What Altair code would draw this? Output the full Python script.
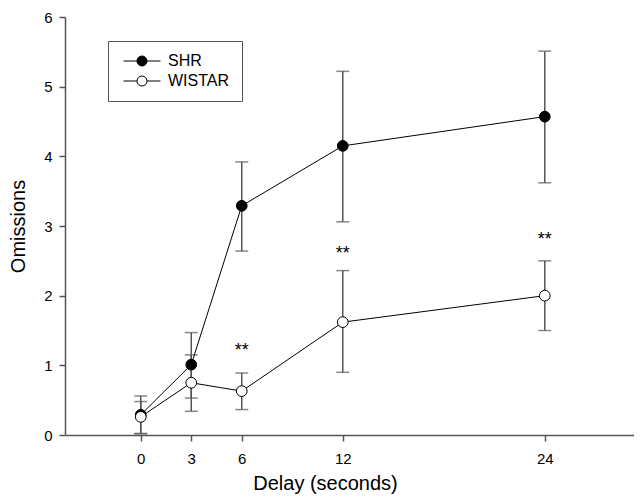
import altair as alt
import pandas as pd

delay = [0, 3, 6, 12, 24]
groups = ["SHR", "WISTAR"]

shr_mean = [0.29, 1.01, 3.29, 4.15, 4.57]
shr_upper = [0.56, 1.47, 3.92, 5.22, 5.51]
shr_lower = [0.02, 0.53, 2.64, 3.06, 3.62]

wis_mean = [0.26, 0.75, 0.63, 1.62, 2.00]
wis_upper = [0.48, 1.15, 0.89, 2.36, 2.50]
wis_lower = [0.02, 0.34, 0.365, 0.90, 1.50]

star_delay = [6, 12, 24]
star_y = [1.27, 2.65, 2.85]
star_text = ["**", "**", "**"]

y_ticks = [0, 1, 2, 3, 4, 5, 6]

rows = []
for g, m, lo, hi in [("SHR", shr_mean, shr_lower, shr_upper),
                     ("WISTAR", wis_mean, wis_lower, wis_upper)]:
    for d, a, b, c in zip(delay, m, lo, hi):
        rows.append({"delay": d, "group": g, "mean": a, "lower": b, "upper": c})
df = pd.DataFrame(rows)
stars = pd.DataFrame({"delay": star_delay, "y": star_y, "t": star_text})

FONT = "Liberation Sans"

xscale = alt.Scale(domain=[-4.5, 29.3], nice=False, zero=False)
yscale = alt.Scale(domain=[0, 6], nice=False, zero=False)

x = alt.X("delay:Q", scale=xscale,
          axis=alt.Axis(values=delay, format="d", title="Delay (seconds)", grid=False,
                        labelFontSize=15, titleFontSize=20, tickSize=6,
                        labelPadding=10, titlePadding=7, titleFontWeight="normal",
                        titleX=260, labelFont=FONT, titleFont=FONT))
y_axis = alt.Axis(values=y_ticks, format="d", title="Omissions", grid=False,
                  labelFontSize=15, titleFontSize=20, tickSize=6,
                  labelPadding=7, titlePadding=15, titleFontWeight="normal",
                  labelFont=FONT, titleFont=FONT)

base = alt.Chart(df)

lines = base.mark_line(color="black", strokeWidth=1).encode(
    x=x, y=alt.Y("mean:Q", scale=yscale, axis=y_axis), detail="group:N")

rules = base.mark_rule(color="#555555", strokeWidth=1.5).encode(
    x="delay:Q", y="lower:Q", y2="upper:Q")

caps_hi = base.mark_tick(orient="horizontal", color="#555555", size=13, thickness=1.5).encode(
    x="delay:Q", y="upper:Q")
caps_lo = base.mark_tick(orient="horizontal", color="#555555", size=13, thickness=1.5).encode(
    x="delay:Q", y="lower:Q")

legend_path = "M-3.7,0H-1 M1,0H3.7 M-1,0A1,1 0 1,1 1,0A1,1 0 1,1 -1,0Z"

points = base.mark_point(filled=True, shape="circle", size=115, stroke="black",
                         strokeWidth=1, opacity=1).encode(
    x="delay:Q", y="mean:Q",
    fill=alt.Fill("group:N", scale=alt.Scale(domain=groups, range=["black", "white"]),
                  legend=alt.Legend(title=None, orient="none", legendX=43, legendY=24,
                                    symbolType=legend_path, symbolSize=100,
                                    symbolStrokeColor="black", symbolStrokeWidth=1,
                                    symbolOffset=14, labelOffset=18,
                                    labelFontSize=16, labelFont=FONT,
                                    strokeColor="#555555", padding=12, rowPadding=4,
                                    labelColor="black")))

text = alt.Chart(stars).mark_text(fontSize=18, font=FONT, baseline="middle",
                                  align="center", color="black", dy=4).encode(
    x="delay:Q", y="y:Q", text="t:N")

chart = alt.layer(rules, caps_hi, caps_lo, lines, points, text).properties(
    width=569, height=418,
    autosize=alt.AutoSizeParams(type="none"),
    padding={"left": 57, "top": 9, "right": 0, "bottom": 70},
).configure_view(stroke=None).configure_axis(
    domainColor="#555555", tickColor="#555555", labelColor="black", titleColor="black",
    domainWidth=1.5, tickWidth=1.5)

chart.save("out.html", embed_options={"renderer": "svg", "actions": False})
